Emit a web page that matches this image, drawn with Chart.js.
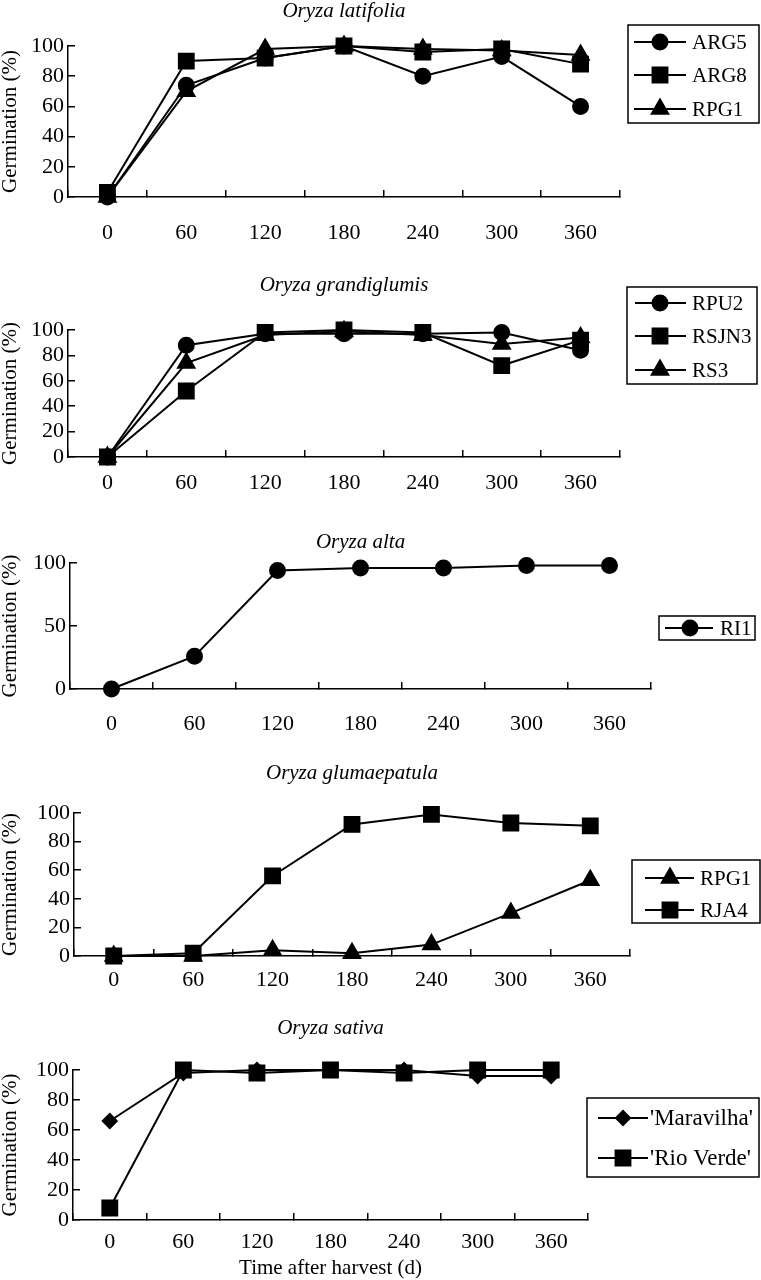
<!DOCTYPE html>
<html>
<head>
<meta charset="utf-8">
<script src="https://cdn.jsdelivr.net/npm/chart.js@4.4.0/dist/chart.umd.min.js"></script>
<style>
  body { margin: 0; background: #fff; }
  .panel { position: absolute; left: 0; width: 761px; }
</style>
</head>
<body>
<div class="panel" style="top:0px;height:255px"><canvas id="c1"></canvas></div>
<div class="panel" style="top:255px;height:255px"><canvas id="c2"></canvas></div>
<div class="panel" style="top:510px;height:235px"><canvas id="c3"></canvas></div>
<div class="panel" style="top:745px;height:260px"><canvas id="c4"></canvas></div>
<div class="panel" style="top:1005px;height:275px"><canvas id="c5"></canvas></div>
<script>
// time after harvest (d)
const days = ['0', '60', '120', '180', '240', '300', '360'];

// Oryza latifolia
const latARG5 = [0, 74, 92, 100, 80, 93, 60];
const latARG8 = [3, 90, 92, 100, 96, 98, 88];
const latRPG1 = [0, 70, 98, 100, 98, 97, 94];

// Oryza grandiglumis
const graRPU2 = [0, 88, 97, 97, 97, 98, 84];
const graRSJN3 = [0, 52, 98, 100, 98, 72, 92];
const graRS3 = [0, 74, 96, 99, 96, 89, 94];

// Oryza alta
const altRI1 = [0, 26, 94, 96, 96, 98, 98];

// Oryza glumaepatula
const gluRPG1 = [0, 0, 4, 2, 8, 30, 53];
const gluRJA4 = [0, 2, 56, 92, 99, 93, 91];

// Oryza sativa
const satMaravilha = [66, 98, 100, 100, 100, 96, 96];
const satRioVerde = [8, 100, 98, 100, 98, 100, 100];

Chart.defaults.font.family = "'Liberation Serif', 'Times New Roman', serif";
Chart.defaults.color = '#000';

const markerSize = { circle: 7.5, rect: 10.5, triangle: 9.5, rectRot: 7 };
const tickFont = 22;

// legend box with a line through each marker
const boxLegend = {
  id: 'boxLegend',
  afterDraw(chart, args, opts) {
    if (!opts.box) return;
    const ctx = chart.ctx;
    ctx.save();
    ctx.strokeStyle = '#000';
    ctx.fillStyle = '#000';
    ctx.lineWidth = 1.5;
    const [bx, by, bw, bh] = opts.box;
    ctx.strokeRect(bx, by, bw, bh);
    ctx.font = opts.size + "px 'Liberation Serif', serif";
    ctx.textBaseline = 'middle';
    ctx.textAlign = 'left';
    opts.items.forEach((it, i) => {
      const y = opts.rows[i];
      ctx.lineWidth = 2;
      ctx.beginPath();
      ctx.moveTo(opts.line[0], y);
      ctx.lineTo(opts.line[1], y);
      ctx.stroke();
      Chart.helpers.drawPoint(ctx, { pointStyle: it.style, radius: markerSize[it.style], rotation: 0, borderWidth: 1 }, opts.mark, y);
      ctx.fillText(it.label, opts.text, y + 1);
    });
    ctx.restore();
  }
};

function makePanel(p) {
  const tl = -7;
  const datasets = p.series.map((s) => ({
    label: s.label,
    data: s.data,
    borderColor: '#000',
    backgroundColor: '#000',
    pointBackgroundColor: '#000',
    pointBorderColor: '#000',
    borderWidth: 2,
    pointStyle: s.style,
    pointRadius: markerSize[s.style],
    pointHoverRadius: markerSize[s.style],
    tension: 0,
    clip: false,
    order: s.top ? -1 : 0
  }));

  new Chart(document.getElementById(p.id), {
    type: 'line',
    data: { labels: days, datasets: datasets },
    plugins: [boxLegend],
    options: {
      responsive: true,
      maintainAspectRatio: false,
      animation: false,
      events: [],
      layout: { padding: { top: 0, left: 0, bottom: 0, right: 761 - p.right } },
      scales: {
        x: {
          type: 'category',
          offset: true,
          grid: { offset: true, drawOnChartArea: false, color: '#000', lineWidth: 1.5, tickLength: tl },
          border: { color: '#000', width: 1.5 },
          ticks: { font: { size: tickFont }, padding: (p.labelY - p.bottom) - tickFont * 0.6 - tl, maxRotation: 0, autoSkip: false },
          title: {
            display: !!p.xTitle,
            text: p.xTitle || '',
            font: { size: 21, lineHeight: 1 },
            padding: { top: 0, bottom: p.H - p.xTitleY - 10.5 }
          },
          afterFit: (s) => { s.height = p.H - p.bottom; }
        },
        y: {
          min: 0,
          max: 100,
          grid: { drawOnChartArea: false, color: '#000', lineWidth: 1.5, tickLength: tl },
          border: { color: '#000', width: 1.5 },
          ticks: { stepSize: p.step, font: { size: tickFont }, padding: 4 - tl, autoSkip: false },
          title: {
            display: true,
            text: 'Germination (%)',
            font: { size: 21, lineHeight: 1 },
            padding: { top: 0, bottom: 0 }
          },
          afterFit: (s) => { s.width = p.left; }
        }
      },
      plugins: {
        legend: { display: false },
        tooltip: { enabled: false },
        title: {
          display: true,
          text: p.title,
          fullSize: false,
          font: { size: 21, style: 'italic', weight: 'normal', lineHeight: 1 },
          padding: { top: p.titleY - 10.5, bottom: p.top - p.titleY - 10.5 }
        },
        boxLegend: Object.assign({ items: p.series }, p.legend)
      }
    }
  });
}

makePanel({
  id: 'c1', title: 'Oryza latifolia', H: 255, top: 46, bottom: 197, left: 68, right: 620,
  titleY: 11, labelY: 233, step: 20,
  series: [
    { label: 'ARG5', data: latARG5, style: 'circle' },
    { label: 'ARG8', data: latARG8, style: 'rect', top: true },
    { label: 'RPG1', data: latRPG1, style: 'triangle' }
  ],
  legend: { box: [628, 25, 131, 98], rows: [42, 75, 109], line: [634, 686], mark: 660, text: 692, size: 21 }
});

makePanel({
  id: 'c2', title: 'Oryza grandiglumis', H: 255, top: 75, bottom: 202, left: 68, right: 620,
  titleY: 30, labelY: 228, step: 20,
  series: [
    { label: 'RPU2', data: graRPU2, style: 'circle' },
    { label: 'RSJN3', data: graRSJN3, style: 'rect', top: true },
    { label: 'RS3', data: graRS3, style: 'triangle' }
  ],
  legend: { box: [627, 32, 130, 97], rows: [48, 81, 115], line: [635, 686], mark: 660, text: 692, size: 21 }
});

makePanel({
  id: 'c3', title: 'Oryza alta', H: 235, top: 53, bottom: 179, left: 70, right: 651,
  titleY: 32, labelY: 214, step: 50,
  series: [
    { label: 'RI1', data: altRI1, style: 'circle' }
  ],
  legend: { box: [659, 106, 96, 24], rows: [118], line: [665, 713], mark: 690, text: 720, size: 21 }
});

makePanel({
  id: 'c4', title: 'Oryza glumaepatula', H: 260, top: 68, bottom: 211, left: 74, right: 630,
  titleY: 28, labelY: 235, step: 20,
  series: [
    { label: 'RPG1', data: gluRPG1, style: 'triangle' },
    { label: 'RJA4', data: gluRJA4, style: 'rect', top: true }
  ],
  legend: { box: [632, 115, 128, 63], rows: [133, 165], line: [645, 694], mark: 670, text: 700, size: 21 }
});

makePanel({
  id: 'c5', title: 'Oryza sativa', H: 275, top: 65, bottom: 215, left: 73, right: 588,
  titleY: 23, labelY: 237, step: 20, xTitle: 'Time after harvest (d)', xTitleY: 263,
  series: [
    { label: "'Maravilha'", data: satMaravilha, style: 'rectRot' },
    { label: "'Rio Verde'", data: satRioVerde, style: 'rect', top: true }
  ],
  legend: { box: [587, 93, 172, 79], rows: [113, 153], line: [598, 648], mark: 623, text: 650, size: 23 }
});
</script>
</body>
</html>
